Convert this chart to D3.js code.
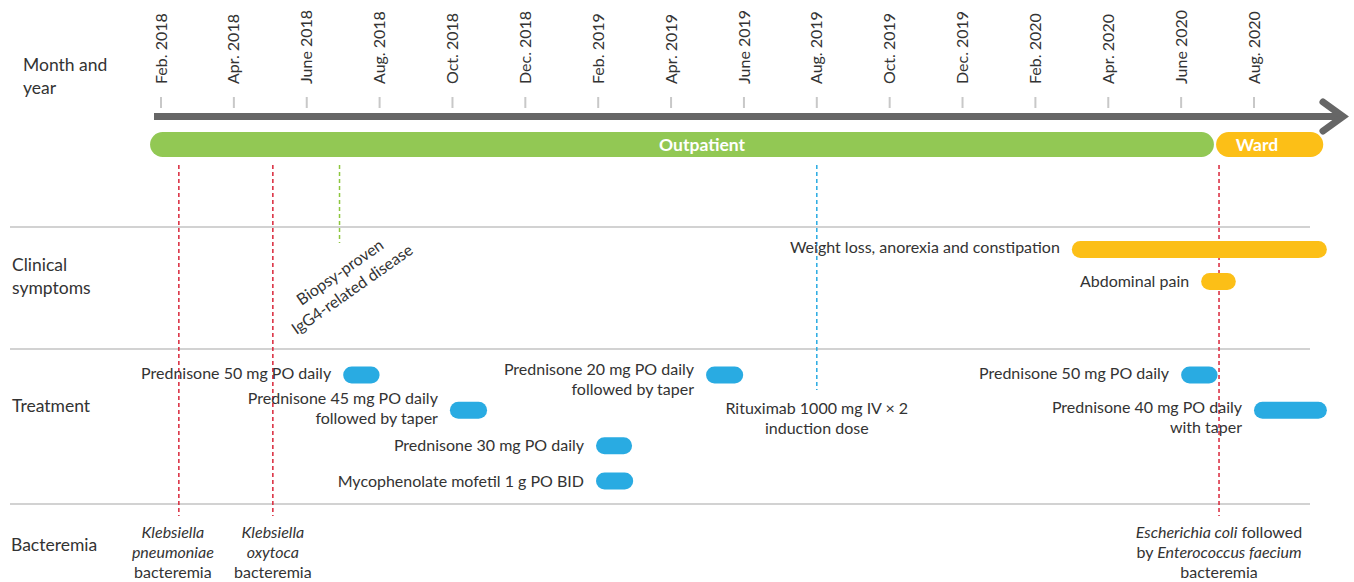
<!DOCTYPE html>
<html>
<head>
<meta charset="utf-8">
<script src="https://cdn.jsdelivr.net/npm/d3@7"></script>
<style>
    body { margin: 0; background: #fff; }
    svg { font-family: Lato, 'Noto Sans', sans-serif; }
    text { fill: #333; font-size: 16px; }
</style>
</head>
<body>
<svg id="vis_svg" width="1354" height="582"></svg>
<script>
let svg;
let x;

// months are counted from Jan. 2018 (= 0)
let tickMonths = [1, 3, 5, 7, 9, 11, 13, 15, 17, 19, 21, 23, 25, 27, 29, 31];
let tickLabels = ['Feb. 2018', 'Apr. 2018', 'June 2018', 'Aug. 2018', 'Oct. 2018', 'Dec. 2018',
    'Feb. 2019', 'Apr. 2019', 'June 2019', 'Aug. 2019', 'Oct. 2019', 'Dec. 2019',
    'Feb. 2020', 'Apr. 2020', 'June 2020', 'Aug. 2020'];

let rowLabels = [['Month and', 'year'], ['Clinical', 'symptoms'], ['Treatment'], ['Bacteremia']];

// care setting
let stayNames = ['Outpatient', 'Ward'];
let stayStart = [0.7, 29.96];
let stayEnd = [29.9, 32.9];
let stayLabelAt = [15.85, 31.08];

// clinical symptoms
let symptomNames = ['Weight loss, anorexia and constipation', 'Abdominal pain'];
let symptomStart = [26.0, 29.55];
let symptomEnd = [33.0, 30.5];
let symptomLane = [0, 1];

// treatment
let treatmentNames = [
    ['Prednisone 50 mg PO daily'],
    ['Prednisone 45 mg PO daily', 'followed by taper'],
    ['Prednisone 30 mg PO daily'],
    ['Mycophenolate mofetil 1 g PO BID'],
    ['Prednisone 20 mg PO daily', 'followed by taper'],
    ['Prednisone 50 mg PO daily'],
    ['Prednisone 40 mg PO daily', 'with taper']
];
let treatmentStart = [6.0, 8.93, 12.94, 12.94, 15.96, 29.0, 31.0];
let treatmentEnd = [7.0, 9.95, 13.93, 13.96, 16.98, 30.0, 33.0];
let treatmentLane = [0, 1, 2, 3, 0, 0, 1];

// single events (dashed lines)
let eventMonths = [1.49, 4.07, 5.9, 19.0, 30.04];
let eventKinds = ['bacteremia', 'bacteremia', 'diagnosis', 'rituximab', 'bacteremia'];

let diagnosisText = ['Biopsy-proven', 'IgG4-related disease'];
let rituximabText = ['Rituximab 1000 mg IV \u00d7 2', 'induction dose'];

// bacteremia labels, each line a list of [text, italic]
let bacteremiaText = [
    [[['Klebsiella', true]], [['pneumoniae', true]], [['bacteremia', false]]],
    [[['Klebsiella', true]], [['oxytoca', true]], [['bacteremia', false]]],
    [[['Escherichia coli', true], [' followed', false]],
     [['by ', false], ['Enterococcus faecium', true]],
     [['bacteremia', false]]]
];

let colors = {
    grey: '#666666',
    tick: '#c8c8c8',
    rule: '#d2d2d2',
    green: '#92c854',
    yellow: '#fcbf17',
    blue: '#29abe2',
    red: '#d9263a',
    lime: '#8dc63f'
};
let eventColor = {bacteremia: colors.red, diagnosis: colors.lime, rituximab: colors.blue};
let eventBottom = {bacteremia: 516, diagnosis: 243, rituximab: 390};

/**
 * Set things up, then draw everything
 */
function drawVis() {
    svg = d3.select('svg#vis_svg');

    x = d3.scaleLinear()
        .domain([1, 31])
        .range([161, 1254]);

    drawRows();
    drawEvents();
    drawAxis();
    drawStays();
    drawSymptoms();
    drawTreatments();
    drawNotes();
}

/**
 * Row separators and row labels on the left
 */
function drawRows() {
    let rules = [227, 349, 504];
    svg.append('g').selectAll('line')
        .data(rules)
        .enter()
        .append('line')
        .attr('x1', 10).attr('x2', 1310)
        .attr('y1', d => d).attr('y2', d => d)
        .style('stroke', colors.rule)
        .style('stroke-width', 2);

    let labelPos = [{x: 23, y: 65}, {x: 12, y: 265}, {x: 12, y: 406}, {x: 11, y: 545}];
    let g = svg.append('g');
    rowLabels.forEach(function(lines, i) {
        let t = g.append('text')
            .attr('x', labelPos[i].x)
            .attr('y', labelPos[i].y)
            .style('font-size', '17.5px');
        lines.forEach(function(line, j) {
            t.append('tspan')
                .attr('x', labelPos[i].x)
                .attr('dy', j === 0 ? '0.35em' : 23)
                .text(line);
        });
    });
}

/**
 * Month ticks and the big arrow
 */
function drawAxis() {
    let g = svg.append('g');

    g.selectAll('line.tick')
        .data(tickMonths)
        .enter()
        .append('line')
        .attr('class', 'tick')
        .attr('x1', d => x(d)).attr('x2', d => x(d))
        .attr('y1', 97).attr('y2', 108)
        .style('stroke', colors.tick)
        .style('stroke-width', 2);

    g.selectAll('text.ticklabel')
        .data(tickMonths)
        .enter()
        .append('text')
        .attr('class', 'ticklabel')
        .attr('transform', d => translate(x(d), 84) + ' rotate(-90)')
        .attr('dy', '0.35em')
        .attr('text-anchor', 'start')
        .text((d, i) => tickLabels[i]);

    // arrow shaft + head
    g.append('line')
        .attr('x1', 154).attr('x2', 1340)
        .attr('y1', 116.5).attr('y2', 116.5)
        .style('stroke', colors.grey)
        .style('stroke-width', 7);
    g.append('path')
        .attr('d', 'M1323,102 L1343,116.5 L1323,131')
        .style('fill', 'none')
        .style('stroke', colors.grey)
        .style('stroke-width', 7)
        .style('stroke-linecap', 'round')
        .style('stroke-linejoin', 'miter');
}

/**
 * Outpatient / ward bar
 */
function drawStays() {
    let g = svg.append('g');
    let h = 25;
    let y0 = 132;
    let stayColors = [colors.green, colors.yellow];

    g.selectAll('rect')
        .data(stayNames)
        .enter()
        .append('rect')
        .attr('x', (d, i) => x(stayStart[i]))
        .attr('width', (d, i) => x(stayEnd[i]) - x(stayStart[i]))
        .attr('y', y0)
        .attr('height', h)
        .attr('rx', h / 2)
        .style('fill', (d, i) => stayColors[i]);

    g.selectAll('text')
        .data(stayNames)
        .enter()
        .append('text')
        .attr('x', (d, i) => x(stayLabelAt[i]))
        .attr('y', y0 + h / 2)
        .attr('dy', '0.35em')
        .attr('text-anchor', 'middle')
        .style('fill', '#fff')
        .style('font-weight', 'bold')
        .style('font-size', '17.5px')
        .text(d => d);
}

/**
 * Draw a set of rounded bars with right-aligned labels in front of them
 */
function drawPills(g, names, starts, ends, lanes, laneY, color, labelDy) {
    let h = 17;
    g.selectAll('rect')
        .data(names)
        .enter()
        .append('rect')
        .attr('x', (d, i) => x(starts[i]))
        .attr('width', (d, i) => x(ends[i]) - x(starts[i]))
        .attr('y', (d, i) => laneY(lanes[i]) - h / 2)
        .attr('height', h)
        .attr('rx', h / 2)
        .style('fill', color);

    names.forEach(function(lines, i) {
        if (!Array.isArray(lines)) lines = [lines];
        let tx = x(starts[i]) - 12;
        let t = g.append('text')
            .attr('x', tx)
            .attr('y', laneY(lanes[i]) + labelDy[i])
            .attr('text-anchor', 'end');
        lines.forEach(function(line, j) {
            t.append('tspan')
                .attr('x', tx)
                .attr('dy', j === 0 ? '0.35em' : 20.5)
                .text(line);
        });
    });
}

function drawSymptoms() {
    let laneY = d3.scalePoint().domain([0, 1]).range([249.5, 281.5]);
    drawPills(svg.append('g'), symptomNames, symptomStart, symptomEnd, symptomLane,
        laneY, colors.yellow, [-2, 0]);
}

function drawTreatments() {
    let laneY = d3.scalePoint().domain([0, 1, 2, 3]).range([375, 481]);
    drawPills(svg.append('g'), treatmentNames, treatmentStart, treatmentEnd, treatmentLane,
        laneY, colors.blue, [-2, -12, 0, 0, -6, -2, -3]);
}

/**
 * Dashed vertical lines for single events
 */
function drawEvents() {
    svg.append('g').selectAll('line')
        .data(eventMonths)
        .enter()
        .append('line')
        .attr('x1', d => x(d)).attr('x2', d => x(d))
        .attr('y1', 165)
        .attr('y2', (d, i) => eventBottom[eventKinds[i]])
        .style('stroke', (d, i) => eventColor[eventKinds[i]])
        .style('stroke-width', 1.5)
        .style('stroke-dasharray', '4,3');
}

/**
 * Text notes attached to the events
 */
function drawNotes() {
    let g = svg.append('g');

    // biopsy, tilted
    let diagX = x(eventMonths[eventKinds.indexOf('diagnosis')]);
    let t = g.append('text')
        .attr('transform', translate(diagX + 6, 280) + ' rotate(-35)')
        .attr('text-anchor', 'middle');
    diagnosisText.forEach(function(line, j) {
        t.append('tspan')
            .attr('x', 0)
            .attr('y', j === 0 ? -4 : 17)
            .text(line);
    });

    // rituximab
    let ritX = x(eventMonths[eventKinds.indexOf('rituximab')]);
    let r = g.append('text')
        .attr('text-anchor', 'middle');
    rituximabText.forEach(function(line, j) {
        r.append('tspan')
            .attr('x', ritX)
            .attr('y', 408 + j * 20)
            .attr('dy', '0.35em')
            .text(line);
    });

    // bacteremia
    let bacX = eventMonths.filter((d, i) => eventKinds[i] === 'bacteremia');
    bacteremiaText.forEach(function(lines, i) {
        let cx = x(bacX[i]) - (i === 0 ? 6 : 0);
        let b = g.append('text')
            .attr('text-anchor', 'middle');
        lines.forEach(function(parts, j) {
            let line = b.append('tspan')
                .attr('x', cx)
                .attr('y', 532 + j * 20)
                .attr('dy', '0.35em');
            parts.forEach(function(p) {
                line.append('tspan')
                    .style('font-style', p[1] ? 'italic' : 'normal')
                    .text(p[0]);
            });
        });
    });
}

// HELPERS
/**
 * translate string
 */
function translate(x, y) {
    return 'translate(' + String(x) + ',' + String(y) + ')';
}

drawVis();
</script>
</body>
</html>
